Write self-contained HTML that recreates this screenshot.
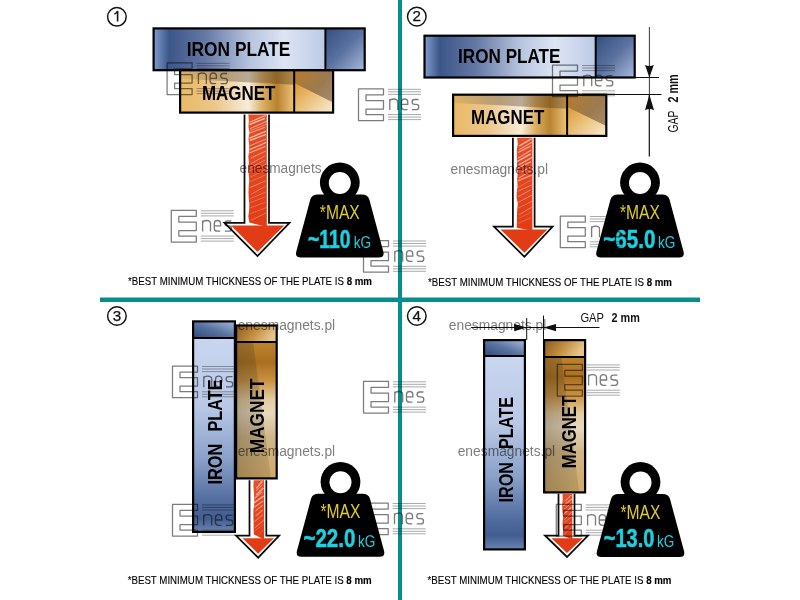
<!DOCTYPE html><html><head><meta charset="utf-8"><style>html,body{margin:0;padding:0;background:#fff;width:800px;height:600px;overflow:hidden}svg{display:block;font-family:"Liberation Sans",sans-serif}.wm{mix-blend-mode:multiply}</style></head><body>
<svg width="800" height="600" viewBox="0 0 800 600">
<defs>
<linearGradient id="ipMain" x1="0" y1="0" x2="1" y2="0">
<stop offset="0" stop-color="#809ccc"/><stop offset="0.09" stop-color="#3c5689"/><stop offset="0.3" stop-color="#6478a4"/>
<stop offset="0.56" stop-color="#b7c4df"/><stop offset="0.76" stop-color="#dde5f4"/><stop offset="1" stop-color="#bccae6"/></linearGradient>
<linearGradient id="ipEnd" x1="0" y1="0" x2="1" y2="1">
<stop offset="0" stop-color="#334e7e"/><stop offset="0.5" stop-color="#5a72a0"/><stop offset="1" stop-color="#a8badc"/></linearGradient>
<linearGradient id="ipV" x1="0" y1="0" x2="0" y2="1">
<stop offset="0" stop-color="#c9d6f0"/><stop offset="0.35" stop-color="#b9c8e6"/><stop offset="0.62" stop-color="#8ba1c9"/>
<stop offset="0.86" stop-color="#4d689b"/><stop offset="0.93" stop-color="#425d8f"/><stop offset="1" stop-color="#6a84b3"/></linearGradient>
<linearGradient id="ipEndV" x1="0" y1="1" x2="1" y2="0">
<stop offset="0" stop-color="#2f4a7a"/><stop offset="0.5" stop-color="#5a74a2"/><stop offset="1" stop-color="#a9badb"/></linearGradient>
<linearGradient id="mgMain" x1="0" y1="0" x2="1" y2="0">
<stop offset="0" stop-color="#e9b965"/><stop offset="0.3" stop-color="#ecc68a"/><stop offset="0.6" stop-color="#f7ecd8"/>
<stop offset="0.72" stop-color="#ddb066"/><stop offset="0.85" stop-color="#b8832e"/><stop offset="1" stop-color="#eec47a"/></linearGradient>
<linearGradient id="mgBand" x1="0" y1="0" x2="1" y2="0">
<stop offset="0" stop-color="#6a5a40" stop-opacity="0.1"/><stop offset="0.4" stop-color="#4a3a2a" stop-opacity="0.35"/><stop offset="1" stop-color="#4a3010" stop-opacity="0.38"/></linearGradient>
<linearGradient id="mgEnd" x1="0" y1="0" x2="1" y2="1">
<stop offset="0" stop-color="#b87a2a"/><stop offset="0.5" stop-color="#9c7a50"/><stop offset="1" stop-color="#a89274"/></linearGradient>
<linearGradient id="mgEnd2" x1="0" y1="0.2" x2="1" y2="1">
<stop offset="0" stop-color="#dfa040"/><stop offset="0.5" stop-color="#ecc888"/><stop offset="1" stop-color="#f8ecd4"/></linearGradient>
<linearGradient id="mgV" x1="0" y1="0" x2="0" y2="1">
<stop offset="0" stop-color="#bc842f"/><stop offset="0.15" stop-color="#aa7020"/><stop offset="0.28" stop-color="#c89040"/>
<stop offset="0.42" stop-color="#e4cca2"/><stop offset="0.52" stop-color="#e8d8bc"/><stop offset="0.7" stop-color="#d0b688"/><stop offset="1" stop-color="#d0aa66"/></linearGradient>
<linearGradient id="mgVBand" x1="0" y1="0" x2="1" y2="0">
<stop offset="0" stop-color="#3a3020" stop-opacity="0.32"/><stop offset="1" stop-color="#3a3020" stop-opacity="0.14"/></linearGradient>
<linearGradient id="mgEndV" x1="0" y1="0" x2="1" y2="0.3">
<stop offset="0" stop-color="#885a22"/><stop offset="0.5" stop-color="#bf8a3c"/><stop offset="1" stop-color="#e6c48a"/></linearGradient>
<linearGradient id="redSh" x1="0" y1="0" x2="0" y2="1">
<stop offset="0" stop-color="#e8502a"/><stop offset="1" stop-color="#e03c16"/></linearGradient>
</defs>
<rect x="398" y="0" width="4" height="600" fill="#078d8a"/>
<rect x="100" y="297.5" width="600" height="4.5" fill="#078d8a"/>
<circle cx="116.9" cy="16.8" r="9.3" fill="none" stroke="#111" stroke-width="1.45"/><path d="M114.4,14.200000000000001 Q116.5,13.0 117.60000000000001,11.0 V21.5" fill="none" stroke="#111" stroke-width="1.55"/>
<circle cx="416.8" cy="16.6" r="9.3" fill="none" stroke="#111" stroke-width="1.45"/><text x="416.8" y="21.400000000000002" font-size="15.2" text-anchor="middle" fill="#111" stroke="#111" stroke-width="0.25">2</text>
<circle cx="116.9" cy="316" r="9.3" fill="none" stroke="#111" stroke-width="1.45"/><text x="116.9" y="320.8" font-size="15.2" text-anchor="middle" fill="#111" stroke="#111" stroke-width="0.25">3</text>
<circle cx="416.8" cy="316" r="9.3" fill="none" stroke="#111" stroke-width="1.45"/><text x="416.8" y="320.8" font-size="15.2" text-anchor="middle" fill="#111" stroke="#111" stroke-width="0.25">4</text>
<g><rect x="153.6" y="28.400000000000002" width="171.80000000000004" height="41.8" fill="url(#ipMain)"/><rect x="325.40000000000003" y="28.400000000000002" width="39.299999999999955" height="41.8" fill="url(#ipEnd)"/><line x1="325.40000000000003" y1="28.400000000000002" x2="325.40000000000003" y2="70.2" stroke="#000" stroke-width="2"/><rect x="153.6" y="28.400000000000002" width="211.1" height="41.8" fill="none" stroke="#000" stroke-width="2.2"/><text x="186.8" y="56.3" font-size="20.4" font-weight="bold" fill="#000" textLength="103.6" lengthAdjust="spacingAndGlyphs" xml:space="preserve">IRON PLATE</text></g>
<g><rect x="180.1" y="70.3" width="114.1" height="42.30000000000001" fill="url(#mgMain)"/><path d="M180.1,70.3 L294.2,70.3 L294.2,84.682 L180.1,78.76 Z" fill="url(#mgBand)"/><rect x="294.2" y="70.3" width="38.89999999999998" height="42.30000000000001" fill="url(#mgEnd)"/><path d="M294.2,82.99 L333.09999999999997,102.44800000000001 L333.09999999999997,112.60000000000001 L294.2,112.60000000000001 Z" fill="url(#mgEnd2)"/><line x1="294.2" y1="70.3" x2="294.2" y2="112.60000000000001" stroke="#000" stroke-width="2"/><rect x="180.1" y="70.3" width="152.99999999999997" height="42.30000000000001" fill="none" stroke="#000" stroke-width="2.2"/><text x="201.9" y="100" font-size="20.2" font-weight="bold" fill="#000" textLength="73.6" lengthAdjust="spacingAndGlyphs">MAGNET</text></g>
<g><path d="M266.8,114.5 L266.8,226.8 L249.3,222.5 L248.3,216.5 L249.1,210.5 L249.3,204.5 L248.8,198.5 L248.5,192.5 L248.7,186.5 L249.2,180.5 L248.7,174.5 L248.2,168.5 L248.9,162.5 L248.3,156.5 L249.3,150.5 L249.1,144.5 L248.5,138.5 L249.4,132.5 L248.4,126.5 L248.9,120.5 L248.3,114.5 Z" fill="url(#redSh)"/><line x1="249.8" y1="122.1" x2="265.6" y2="115.5" stroke="#fff" stroke-width="1.02" opacity="0.64"/><line x1="249.6" y1="124.4" x2="264.9" y2="118.5" stroke="#fff" stroke-width="1.09" opacity="0.76"/><line x1="250.3" y1="128.6" x2="266.8" y2="121.3" stroke="#fff" stroke-width="0.74" opacity="0.72"/><line x1="250.1" y1="130.8" x2="266.8" y2="124.2" stroke="#fff" stroke-width="0.79" opacity="0.46"/><line x1="249.4" y1="133.2" x2="264.8" y2="127.3" stroke="#fff" stroke-width="0.91" opacity="0.57"/><line x1="249.3" y1="138.3" x2="265.8" y2="131.2" stroke="#fff" stroke-width="1.25" opacity="0.70"/><line x1="249.9" y1="140.4" x2="265.8" y2="134.5" stroke="#fff" stroke-width="1.16" opacity="0.73"/><line x1="249.7" y1="145.9" x2="265.7" y2="139.2" stroke="#fff" stroke-width="0.84" opacity="0.59"/><line x1="250.1" y1="149.5" x2="266.0" y2="142.5" stroke="#fff" stroke-width="1.15" opacity="0.65"/><line x1="249.5" y1="152.9" x2="265.1" y2="146.4" stroke="#fff" stroke-width="0.93" opacity="0.70"/><line x1="251.0" y1="158.2" x2="265.8" y2="150.9" stroke="#fff" stroke-width="1.15" opacity="0.38"/><line x1="250.8" y1="163.8" x2="264.8" y2="155.9" stroke="#fff" stroke-width="0.75" opacity="0.49"/><line x1="250.3" y1="167.7" x2="264.9" y2="160.2" stroke="#fff" stroke-width="0.79" opacity="0.42"/><line x1="249.3" y1="170.8" x2="266.5" y2="164.2" stroke="#fff" stroke-width="0.69" opacity="0.42"/><line x1="250.3" y1="177.2" x2="265.3" y2="169.4" stroke="#fff" stroke-width="0.57" opacity="0.42"/><line x1="250.1" y1="181.8" x2="265.1" y2="175.1" stroke="#fff" stroke-width="0.55" opacity="0.39"/><line x1="249.9" y1="187.6" x2="265.7" y2="180.8" stroke="#fff" stroke-width="0.71" opacity="0.51"/><line x1="251.1" y1="194.3" x2="265.3" y2="186.3" stroke="#fff" stroke-width="0.86" opacity="0.36"/><line x1="250.3" y1="198.7" x2="265.8" y2="192.0" stroke="#fff" stroke-width="0.79" opacity="0.33"/><line x1="249.8" y1="202.9" x2="265.0" y2="197.0" stroke="#fff" stroke-width="0.65" opacity="0.35"/><line x1="250.3" y1="207.9" x2="265.6" y2="202.1" stroke="#fff" stroke-width="0.82" opacity="0.26"/><line x1="249.9" y1="213.9" x2="266.5" y2="207.5" stroke="#fff" stroke-width="0.72" opacity="0.28"/><line x1="251.1" y1="220.1" x2="266.3" y2="212.8" stroke="#fff" stroke-width="0.80" opacity="0.34"/><path d="M231.0,225.60000000000002 L284.3,225.60000000000002 L257.5,252 Z" fill="#e13c16"/><path d="M244.5,114.5 L244.5,222.8 L224.5,222.8 L257.5,256 L289.5,222.8 L269,222.8 L269,114.5" fill="none" stroke="#0a0a0a" stroke-width="1.75" stroke-linejoin="miter"/></g>
<g><circle cx="339.8" cy="182.5" r="19.9" fill="#000"/><circle cx="339.8" cy="183.0" r="11" fill="#fff"/><path d="M317.8,194.5 L361.8,194.5 Q367.8,194.5 369.3,199.5 L383.3,251.5 Q384.8,257.5 378.8,257.5 L300.8,257.5 Q294.8,257.5 296.3,251.5 L310.3,199.5 Q311.8,194.5 317.8,194.5 Z" fill="#000"/><text x="319.8" y="219.0" font-size="19.5" fill="#e0cb28" textLength="40" lengthAdjust="spacingAndGlyphs">*MAX</text><text x="307.9" y="247.5" font-size="25" font-weight="bold" fill="#1cd0e0" stroke="#1cd0e0" stroke-width="0.5" textLength="42.5" lengthAdjust="spacingAndGlyphs">~110</text><text x="353.8" y="247.5" font-size="16" fill="#1cd0e0" textLength="17.4" lengthAdjust="spacingAndGlyphs">kG</text></g>
<text x="128" y="285" font-size="10.8" fill="#000" stroke="#000" stroke-width="0.12" textLength="244" lengthAdjust="spacingAndGlyphs">*BEST MINIMUM THICKNESS OF THE PLATE IS <tspan font-weight="bold">8 mm</tspan></text>
<g><rect x="424.5" y="35.7" width="171.19999999999993" height="41.8" fill="url(#ipMain)"/><rect x="595.6999999999999" y="35.7" width="39.0" height="41.8" fill="url(#ipEnd)"/><line x1="595.6999999999999" y1="35.7" x2="595.6999999999999" y2="77.5" stroke="#000" stroke-width="2"/><rect x="424.5" y="35.7" width="210.19999999999993" height="41.8" fill="none" stroke="#000" stroke-width="2.2"/><text x="458.1" y="63.4" font-size="20.4" font-weight="bold" fill="#000" textLength="102.4" lengthAdjust="spacingAndGlyphs" xml:space="preserve">IRON PLATE</text></g>
<g><rect x="453.1" y="94.69999999999999" width="114.0" height="41.20000000000002" fill="url(#mgMain)"/><path d="M453.1,94.69999999999999 L567.1,94.69999999999999 L567.1,108.708 L453.1,102.94 Z" fill="url(#mgBand)"/><rect x="567.1" y="94.69999999999999" width="39.19999999999993" height="41.20000000000002" fill="url(#mgEnd)"/><path d="M567.1,107.05999999999999 L606.3,126.012 L606.3,135.9 L567.1,135.9 Z" fill="url(#mgEnd2)"/><line x1="567.1" y1="94.69999999999999" x2="567.1" y2="135.9" stroke="#000" stroke-width="2"/><rect x="453.1" y="94.69999999999999" width="153.19999999999993" height="41.20000000000002" fill="none" stroke="#000" stroke-width="2.2"/><text x="471.1" y="124.2" font-size="20.2" font-weight="bold" fill="#000" textLength="73.2" lengthAdjust="spacingAndGlyphs">MAGNET</text></g>
<g><path d="M532.4,137.8 L532.4,230.7 L516.8,227.8 L516.9,221.8 L517.0,215.8 L517.2,209.8 L517.8,203.8 L516.6,197.8 L516.8,191.8 L517.6,185.8 L517.1,179.8 L517.7,173.8 L517.1,167.8 L516.9,161.8 L516.9,155.8 L516.8,149.8 L517.8,143.8 L517.1,137.8 Z" fill="url(#redSh)"/><line x1="519.3" y1="146.0" x2="531.5" y2="138.8" stroke="#fff" stroke-width="1.12" opacity="0.69"/><line x1="519.4" y1="149.6" x2="532.0" y2="142.2" stroke="#fff" stroke-width="0.79" opacity="0.74"/><line x1="518.1" y1="152.5" x2="530.7" y2="146.0" stroke="#fff" stroke-width="1.30" opacity="0.53"/><line x1="517.9" y1="158.2" x2="531.1" y2="150.3" stroke="#fff" stroke-width="1.18" opacity="0.48"/><line x1="517.2" y1="161.5" x2="530.7" y2="153.9" stroke="#fff" stroke-width="1.32" opacity="0.64"/><line x1="518.9" y1="164.7" x2="532.0" y2="157.4" stroke="#fff" stroke-width="1.19" opacity="0.60"/><line x1="517.9" y1="167.9" x2="530.8" y2="161.7" stroke="#fff" stroke-width="1.16" opacity="0.60"/><line x1="519.2" y1="173.6" x2="531.0" y2="166.4" stroke="#fff" stroke-width="0.96" opacity="0.60"/><line x1="518.8" y1="178.2" x2="530.9" y2="170.6" stroke="#fff" stroke-width="1.19" opacity="0.42"/><line x1="517.6" y1="181.0" x2="531.6" y2="175.1" stroke="#fff" stroke-width="1.15" opacity="0.54"/><line x1="517.4" y1="187.9" x2="530.9" y2="180.0" stroke="#fff" stroke-width="0.62" opacity="0.35"/><line x1="517.7" y1="191.4" x2="532.0" y2="184.8" stroke="#fff" stroke-width="0.77" opacity="0.42"/><line x1="518.0" y1="196.7" x2="530.5" y2="190.0" stroke="#fff" stroke-width="0.70" opacity="0.53"/><line x1="517.5" y1="202.6" x2="532.0" y2="195.1" stroke="#fff" stroke-width="0.92" opacity="0.39"/><line x1="518.2" y1="208.1" x2="532.3" y2="201.1" stroke="#fff" stroke-width="0.77" opacity="0.33"/><line x1="519.1" y1="214.7" x2="531.9" y2="207.1" stroke="#fff" stroke-width="0.96" opacity="0.37"/><line x1="519.3" y1="218.1" x2="530.7" y2="212.2" stroke="#fff" stroke-width="0.75" opacity="0.24"/><line x1="518.2" y1="223.3" x2="530.9" y2="217.6" stroke="#fff" stroke-width="0.84" opacity="0.26"/><path d="M500.5,229.5 L547.4,229.5 L524.4,252.8 Z" fill="#e13c16"/><path d="M512.9,137.8 L512.9,226.7 L494,226.7 L524.4,256.8 L552.6,226.7 L534.6,226.7 L534.6,137.8" fill="none" stroke="#0a0a0a" stroke-width="1.75" stroke-linejoin="miter"/></g>
<g><circle cx="640" cy="182.5" r="19.9" fill="#000"/><circle cx="640" cy="183.0" r="11" fill="#fff"/><path d="M618,194.5 L662,194.5 Q668,194.5 669.5,199.5 L683.5,251.5 Q685,257.5 679,257.5 L601,257.5 Q595,257.5 596.5,251.5 L610.5,199.5 Q612,194.5 618,194.5 Z" fill="#000"/><text x="620" y="219.0" font-size="19.5" fill="#e0cb28" textLength="40" lengthAdjust="spacingAndGlyphs">*MAX</text><text x="603.1999999999999" y="247.5" font-size="25" font-weight="bold" fill="#1cd0e0" stroke="#1cd0e0" stroke-width="0.5" textLength="52.2" lengthAdjust="spacingAndGlyphs">~65.0</text><text x="658" y="247.5" font-size="16" fill="#1cd0e0" textLength="17.4" lengthAdjust="spacingAndGlyphs">kG</text></g>
<text x="428" y="285.6" font-size="10.8" fill="#000" stroke="#000" stroke-width="0.12" textLength="244" lengthAdjust="spacingAndGlyphs">*BEST MINIMUM THICKNESS OF THE PLATE IS <tspan font-weight="bold">8 mm</tspan></text>
<line x1="649.4" y1="27" x2="649.4" y2="95" stroke="#222" stroke-width="0.9"/>
<line x1="649.3" y1="95" x2="649.3" y2="156.6" stroke="#111" stroke-width="1.2"/>
<line x1="635" y1="77.5" x2="659" y2="77.5" stroke="#111" stroke-width="1"/>
<line x1="606" y1="94.5" x2="661.5" y2="94.5" stroke="#111" stroke-width="1.1"/>
<path d="M645,65 Q649.4,67 653.8,65 L649.4,77.5 Z" fill="#111"/>
<path d="M645,110.2 Q649.4,108 654,110.2 L649.4,94.5 Z" fill="#111"/>
<g transform="translate(678.1,132.5) rotate(-90)"><text x="0" y="0" font-size="14" fill="#111" textLength="21.9" lengthAdjust="spacingAndGlyphs">GAP</text><text x="30" y="0" font-size="14" font-weight="bold" fill="#111" textLength="28.1" lengthAdjust="spacingAndGlyphs">2 mm</text></g>
<g><rect x="193.1" y="337.9" width="41.80000000000001" height="194.0" fill="url(#ipV)"/><rect x="193.1" y="321.40000000000003" width="41.80000000000001" height="16.499999999999943" fill="url(#ipEndV)"/><line x1="193.1" y1="337.9" x2="234.9" y2="337.9" stroke="#000" stroke-width="2"/><rect x="193.1" y="321.40000000000003" width="41.80000000000001" height="210.49999999999994" fill="none" stroke="#000" stroke-width="2.2"/><text transform="translate(221.6,484.5) rotate(-90)" x="0" y="0" font-size="20.8" font-weight="bold" fill="#000" textLength="40.8" lengthAdjust="spacingAndGlyphs">IRON</text><text transform="translate(221.6,431.6) rotate(-90)" x="0" y="0" font-size="20.8" font-weight="bold" fill="#000" textLength="52.2" lengthAdjust="spacingAndGlyphs">PLATE</text></g>
<g><rect x="236.1" y="341.9" width="40.599999999999994" height="136.5" fill="url(#mgV)"/><path d="M236.1,341.9 L253.152,341.9 L271.01599999999996,478.4 L236.1,478.4 Z" fill="url(#mgVBand)"/><rect x="236.1" y="325.5" width="40.599999999999994" height="16.399999999999977" fill="url(#mgEndV)"/><line x1="236.1" y1="341.9" x2="276.7" y2="341.9" stroke="#000" stroke-width="2"/><rect x="236.1" y="325.5" width="40.599999999999994" height="152.89999999999998" fill="none" stroke="#000" stroke-width="2.2"/><text transform="translate(264.2,453.3) rotate(-90)" x="0" y="0" font-size="20.8" font-weight="bold" fill="#000" textLength="74.8" lengthAdjust="spacingAndGlyphs">MAGNET</text></g>
<g><path d="M264.1,480.3 L264.1,539.5 L253.8,534.3 L253.6,528.3 L253.6,522.3 L253.4,516.3 L253.4,510.3 L254.2,504.3 L254.2,498.3 L253.9,492.3 L253.4,486.3 L253.7,480.3 Z" fill="url(#redSh)"/><line x1="256.3" y1="488.4" x2="262.3" y2="481.3" stroke="#fff" stroke-width="1.40" opacity="0.56"/><line x1="256.0" y1="490.8" x2="262.5" y2="484.8" stroke="#fff" stroke-width="0.83" opacity="0.50"/><line x1="256.0" y1="494.9" x2="263.3" y2="488.0" stroke="#fff" stroke-width="1.34" opacity="0.59"/><line x1="254.5" y1="498.3" x2="262.3" y2="491.8" stroke="#fff" stroke-width="1.05" opacity="0.54"/><line x1="254.2" y1="502.8" x2="263.6" y2="496.0" stroke="#fff" stroke-width="1.18" opacity="0.69"/><line x1="254.3" y1="507.3" x2="263.1" y2="500.9" stroke="#fff" stroke-width="1.09" opacity="0.53"/><line x1="255.4" y1="511.0" x2="262.7" y2="505.2" stroke="#fff" stroke-width="0.95" opacity="0.62"/><line x1="255.7" y1="516.0" x2="262.6" y2="510.1" stroke="#fff" stroke-width="1.12" opacity="0.42"/><line x1="254.4" y1="521.6" x2="262.8" y2="514.6" stroke="#fff" stroke-width="1.04" opacity="0.31"/><line x1="254.8" y1="527.8" x2="263.8" y2="519.9" stroke="#fff" stroke-width="0.87" opacity="0.47"/><line x1="255.2" y1="530.4" x2="262.5" y2="524.9" stroke="#fff" stroke-width="0.62" opacity="0.28"/><line x1="256.1" y1="537.6" x2="263.2" y2="530.1" stroke="#fff" stroke-width="0.53" opacity="0.30"/><path d="M242.5,538.3 L274.0,538.3 L258.2,553.7 Z" fill="#e13c16"/><path d="M249.5,480.3 L249.5,535.5 L236,535.5 L258.2,557.7 L279.2,535.5 L266.3,535.5 L266.3,480.3" fill="none" stroke="#0a0a0a" stroke-width="1.75" stroke-linejoin="miter"/></g>
<g><circle cx="340.5" cy="481.8" r="19.9" fill="#000"/><circle cx="340.5" cy="482.3" r="11" fill="#fff"/><path d="M318.5,493.8 L362.5,493.8 Q368.5,493.8 370.0,498.8 L384.0,550.8 Q385.5,556.8 379.5,556.8 L301.5,556.8 Q295.5,556.8 297.0,550.8 L311.0,498.8 Q312.5,493.8 318.5,493.8 Z" fill="#000"/><text x="320.5" y="518.3" font-size="19.5" fill="#e0cb28" textLength="40" lengthAdjust="spacingAndGlyphs">*MAX</text><text x="303.4" y="546.8" font-size="25" font-weight="bold" fill="#1cd0e0" stroke="#1cd0e0" stroke-width="0.5" textLength="52" lengthAdjust="spacingAndGlyphs">~22.0</text><text x="358" y="546.8" font-size="16" fill="#1cd0e0" textLength="17.4" lengthAdjust="spacingAndGlyphs">kG</text></g>
<text x="127.7" y="584.3" font-size="10.8" fill="#000" stroke="#000" stroke-width="0.12" textLength="244" lengthAdjust="spacingAndGlyphs">*BEST MINIMUM THICKNESS OF THE PLATE IS <tspan font-weight="bold">8 mm</tspan></text>
<g><rect x="484.1" y="356" width="40.799999999999955" height="193.39999999999998" fill="url(#ipV)"/><rect x="484.1" y="340.1" width="40.799999999999955" height="15.899999999999977" fill="url(#ipEndV)"/><line x1="484.1" y1="356" x2="524.9" y2="356" stroke="#000" stroke-width="2"/><rect x="484.1" y="340.1" width="40.799999999999955" height="209.29999999999995" fill="none" stroke="#000" stroke-width="2.2"/><text transform="translate(512.5,502.5) rotate(-90)" x="0" y="0" font-size="20.8" font-weight="bold" fill="#000" textLength="40.5" lengthAdjust="spacingAndGlyphs">IRON</text><text transform="translate(512.5,449) rotate(-90)" x="0" y="0" font-size="20.8" font-weight="bold" fill="#000" textLength="52" lengthAdjust="spacingAndGlyphs">PLATE</text></g>
<g><rect x="544.1" y="356.9" width="41.0" height="135.5" fill="url(#mgV)"/><path d="M544.1,356.9 L561.32,356.9 L579.36,492.4 L544.1,492.4 Z" fill="url(#mgVBand)"/><rect x="544.1" y="340.1" width="41.0" height="16.799999999999955" fill="url(#mgEndV)"/><line x1="544.1" y1="356.9" x2="585.1" y2="356.9" stroke="#000" stroke-width="2"/><rect x="544.1" y="340.1" width="41.0" height="152.29999999999995" fill="none" stroke="#000" stroke-width="2.2"/><text transform="translate(576.2,468.3) rotate(-90)" x="0" y="0" font-size="20.8" font-weight="bold" fill="#000" textLength="72.5" lengthAdjust="spacingAndGlyphs">MAGNET</text></g>
<g><path d="M572.3,493.8 L572.3,539.5 L562.9,535.8 L563.0,529.8 L562.5,523.8 L563.1,517.8 L562.4,511.8 L562.2,505.8 L562.7,499.8 L562.5,493.8 Z" fill="url(#redSh)"/><line x1="565.0" y1="501.3" x2="571.4" y2="494.8" stroke="#fff" stroke-width="0.74" opacity="0.75"/><line x1="563.4" y1="505.7" x2="572.0" y2="498.9" stroke="#fff" stroke-width="1.09" opacity="0.50"/><line x1="564.2" y1="509.1" x2="571.5" y2="503.0" stroke="#fff" stroke-width="0.71" opacity="0.48"/><line x1="562.9" y1="514.9" x2="571.2" y2="507.4" stroke="#fff" stroke-width="1.05" opacity="0.61"/><line x1="564.5" y1="519.7" x2="571.6" y2="512.0" stroke="#fff" stroke-width="0.72" opacity="0.46"/><line x1="564.0" y1="522.6" x2="571.6" y2="516.9" stroke="#fff" stroke-width="0.68" opacity="0.36"/><line x1="564.4" y1="528.9" x2="571.0" y2="522.4" stroke="#fff" stroke-width="1.02" opacity="0.32"/><line x1="562.9" y1="535.0" x2="571.2" y2="527.9" stroke="#fff" stroke-width="0.58" opacity="0.43"/><path d="M551.5,538.3 L582.8,538.3 L567,553 Z" fill="#e13c16"/><path d="M558.5,493.8 L558.5,535.5 L545,535.5 L567,557 L588,535.5 L574.5,535.5 L574.5,493.8" fill="none" stroke="#0a0a0a" stroke-width="1.75" stroke-linejoin="miter"/></g>
<g><circle cx="640.5" cy="482" r="19.9" fill="#000"/><circle cx="640.5" cy="482.5" r="11" fill="#fff"/><path d="M618.5,494 L662.5,494 Q668.5,494 670.0,499 L684.0,551 Q685.5,557 679.5,557 L601.5,557 Q595.5,557 597.0,551 L611.0,499 Q612.5,494 618.5,494 Z" fill="#000"/><text x="620.5" y="518.5" font-size="19.5" fill="#e0cb28" textLength="40" lengthAdjust="spacingAndGlyphs">*MAX</text><text x="603.8" y="547" font-size="25" font-weight="bold" fill="#1cd0e0" stroke="#1cd0e0" stroke-width="0.5" textLength="50.6" lengthAdjust="spacingAndGlyphs">~13.0</text><text x="657" y="547" font-size="16" fill="#1cd0e0" textLength="17.4" lengthAdjust="spacingAndGlyphs">kG</text></g>
<text x="427.5" y="584.3" font-size="10.8" fill="#000" stroke="#000" stroke-width="0.12" textLength="244" lengthAdjust="spacingAndGlyphs">*BEST MINIMUM THICKNESS OF THE PLATE IS <tspan font-weight="bold">8 mm</tspan></text>
<line x1="526.7" y1="318" x2="526.7" y2="340" stroke="#111" stroke-width="1"/>
<line x1="543.5" y1="315.6" x2="543.5" y2="340" stroke="#111" stroke-width="1"/>
<line x1="471" y1="327.5" x2="599.5" y2="327.5" stroke="#111" stroke-width="1"/>
<path d="M514.2,324 L514.2,331.3 L526.7,327.5 Z" fill="#111"/>
<path d="M556,324 L556,331.3 L543.5,327.5 Z" fill="#111"/>
<text x="580.4" y="321.8" font-size="13.7" fill="#111" textLength="23.6" lengthAdjust="spacingAndGlyphs">GAP</text>
<text x="611.5" y="321.8" font-size="13.7" font-weight="bold" fill="#111" textLength="28.3" lengthAdjust="spacingAndGlyphs">2 mm</text>
<g class="wm"><path d="M167.1,62.8 h25 v6 h-17.5 v5.7 h17.5 v8.5 h-17.5 v5.5 h17.5 v6 h-25 Z" fill="none" stroke="#7c7c7c" stroke-width="1.25" stroke-linejoin="round"/><line x1="196.6" y1="63.3" x2="229.6" y2="63.3" stroke="#a0a0a0" stroke-width="0.9"/><line x1="196.6" y1="65.8" x2="229.6" y2="65.8" stroke="#a0a0a0" stroke-width="0.9"/><line x1="196.6" y1="68.39999999999999" x2="229.6" y2="68.39999999999999" stroke="#a0a0a0" stroke-width="0.9"/><line x1="196.6" y1="88.6" x2="229.6" y2="88.6" stroke="#a0a0a0" stroke-width="0.9"/><line x1="196.6" y1="91.1" x2="229.6" y2="91.1" stroke="#a0a0a0" stroke-width="0.9"/><line x1="196.6" y1="93.6" x2="229.6" y2="93.6" stroke="#a0a0a0" stroke-width="0.9"/><path d="M198.4,84.0 V73.0 M198.4,76.0 Q198.4,73.0 202.3,73.0 Q206.3,73.0 206.3,76.0 V84.0 M210.1,78.39999999999999 H216.39999999999998 V76.1 Q216.39999999999998,73.0 213.25,73.0 Q210.1,73.0 210.1,76.1 V80.9 Q210.1,83.69999999999999 213.25,83.69999999999999 H216.1 M227.1,73.5 H223.1 Q220.7,73.5 220.7,76.0 Q220.7,78.39999999999999 223.1,78.39999999999999 H224.89999999999998 Q227.39999999999998,78.39999999999999 227.39999999999998,81.0 Q227.39999999999998,83.69999999999999 224.89999999999998,83.69999999999999 H220.6" fill="none" stroke="#7a7a7a" stroke-width="1.3"/></g>
<g class="wm"><path d="M358.5,88.8 h25 v6 h-17.5 v5.7 h17.5 v8.5 h-17.5 v5.5 h17.5 v6 h-25 Z" fill="none" stroke="#7c7c7c" stroke-width="1.25" stroke-linejoin="round"/><line x1="388.0" y1="89.3" x2="421.0" y2="89.3" stroke="#a0a0a0" stroke-width="0.9"/><line x1="388.0" y1="91.8" x2="421.0" y2="91.8" stroke="#a0a0a0" stroke-width="0.9"/><line x1="388.0" y1="94.39999999999999" x2="421.0" y2="94.39999999999999" stroke="#a0a0a0" stroke-width="0.9"/><line x1="388.0" y1="114.6" x2="421.0" y2="114.6" stroke="#a0a0a0" stroke-width="0.9"/><line x1="388.0" y1="117.1" x2="421.0" y2="117.1" stroke="#a0a0a0" stroke-width="0.9"/><line x1="388.0" y1="119.6" x2="421.0" y2="119.6" stroke="#a0a0a0" stroke-width="0.9"/><path d="M389.8,110.0 V99.0 M389.8,102.0 Q389.8,99.0 393.7,99.0 Q397.7,99.0 397.7,102.0 V110.0 M401.5,104.39999999999999 H407.8 V102.1 Q407.8,99.0 404.65,99.0 Q401.5,99.0 401.5,102.1 V106.9 Q401.5,109.69999999999999 404.65,109.69999999999999 H407.5 M418.5,99.5 H414.5 Q412.1,99.5 412.1,102.0 Q412.1,104.39999999999999 414.5,104.39999999999999 H416.3 Q418.8,104.39999999999999 418.8,107.0 Q418.8,109.69999999999999 416.3,109.69999999999999 H412.0" fill="none" stroke="#7a7a7a" stroke-width="1.3"/></g>
<g class="wm"><path d="M171.3,210.3 h25 v6 h-17.5 v5.7 h17.5 v8.5 h-17.5 v5.5 h17.5 v6 h-25 Z" fill="none" stroke="#7c7c7c" stroke-width="1.25" stroke-linejoin="round"/><line x1="200.8" y1="210.8" x2="233.8" y2="210.8" stroke="#a0a0a0" stroke-width="0.9"/><line x1="200.8" y1="213.3" x2="233.8" y2="213.3" stroke="#a0a0a0" stroke-width="0.9"/><line x1="200.8" y1="215.9" x2="233.8" y2="215.9" stroke="#a0a0a0" stroke-width="0.9"/><line x1="200.8" y1="236.10000000000002" x2="233.8" y2="236.10000000000002" stroke="#a0a0a0" stroke-width="0.9"/><line x1="200.8" y1="238.60000000000002" x2="233.8" y2="238.60000000000002" stroke="#a0a0a0" stroke-width="0.9"/><line x1="200.8" y1="241.10000000000002" x2="233.8" y2="241.10000000000002" stroke="#a0a0a0" stroke-width="0.9"/><path d="M202.60000000000002,231.5 V220.5 M202.60000000000002,223.5 Q202.60000000000002,220.5 206.5,220.5 Q210.5,220.5 210.5,223.5 V231.5 M214.3,225.9 H220.60000000000002 V223.60000000000002 Q220.60000000000002,220.5 217.45000000000002,220.5 Q214.3,220.5 214.3,223.60000000000002 V228.4 Q214.3,231.20000000000002 217.45000000000002,231.20000000000002 H220.3 M231.3,221.0 H227.3 Q224.9,221.0 224.9,223.5 Q224.9,225.9 227.3,225.9 H229.10000000000002 Q231.60000000000002,225.9 231.60000000000002,228.5 Q231.60000000000002,231.20000000000002 229.10000000000002,231.20000000000002 H224.8" fill="none" stroke="#7a7a7a" stroke-width="1.3"/></g>
<g class="wm"><path d="M363.5,240.5 h25 v6 h-17.5 v5.7 h17.5 v8.5 h-17.5 v5.5 h17.5 v6 h-25 Z" fill="none" stroke="#7c7c7c" stroke-width="1.25" stroke-linejoin="round"/><line x1="393.0" y1="241.0" x2="426.0" y2="241.0" stroke="#a0a0a0" stroke-width="0.9"/><line x1="393.0" y1="243.5" x2="426.0" y2="243.5" stroke="#a0a0a0" stroke-width="0.9"/><line x1="393.0" y1="246.1" x2="426.0" y2="246.1" stroke="#a0a0a0" stroke-width="0.9"/><line x1="393.0" y1="266.3" x2="426.0" y2="266.3" stroke="#a0a0a0" stroke-width="0.9"/><line x1="393.0" y1="268.8" x2="426.0" y2="268.8" stroke="#a0a0a0" stroke-width="0.9"/><line x1="393.0" y1="271.3" x2="426.0" y2="271.3" stroke="#a0a0a0" stroke-width="0.9"/><path d="M394.8,261.7 V250.7 M394.8,253.7 Q394.8,250.7 398.7,250.7 Q402.7,250.7 402.7,253.7 V261.7 M406.5,256.1 H412.8 V253.8 Q412.8,250.7 409.65,250.7 Q406.5,250.7 406.5,253.8 V258.6 Q406.5,261.4 409.65,261.4 H412.5 M423.5,251.2 H419.5 Q417.1,251.2 417.1,253.7 Q417.1,256.1 419.5,256.1 H421.3 Q423.8,256.1 423.8,258.7 Q423.8,261.4 421.3,261.4 H417.0" fill="none" stroke="#7a7a7a" stroke-width="1.3"/></g>
<g class="wm"><path d="M552.5,65 h25 v6 h-17.5 v5.7 h17.5 v8.5 h-17.5 v5.5 h17.5 v6 h-25 Z" fill="none" stroke="#7c7c7c" stroke-width="1.25" stroke-linejoin="round"/><line x1="582.0" y1="65.5" x2="615.0" y2="65.5" stroke="#a0a0a0" stroke-width="0.9"/><line x1="582.0" y1="68.0" x2="615.0" y2="68.0" stroke="#a0a0a0" stroke-width="0.9"/><line x1="582.0" y1="70.6" x2="615.0" y2="70.6" stroke="#a0a0a0" stroke-width="0.9"/><line x1="582.0" y1="90.8" x2="615.0" y2="90.8" stroke="#a0a0a0" stroke-width="0.9"/><line x1="582.0" y1="93.3" x2="615.0" y2="93.3" stroke="#a0a0a0" stroke-width="0.9"/><line x1="582.0" y1="95.8" x2="615.0" y2="95.8" stroke="#a0a0a0" stroke-width="0.9"/><path d="M583.8,86.2 V75.2 M583.8,78.2 Q583.8,75.2 587.7,75.2 Q591.7,75.2 591.7,78.2 V86.2 M595.5,80.6 H601.8 V78.3 Q601.8,75.2 598.65,75.2 Q595.5,75.2 595.5,78.3 V83.1 Q595.5,85.9 598.65,85.9 H601.5 M612.5,75.7 H608.5 Q606.1,75.7 606.1,78.2 Q606.1,80.6 608.5,80.6 H610.3 Q612.8,80.6 612.8,83.2 Q612.8,85.9 610.3,85.9 H606.0" fill="none" stroke="#7a7a7a" stroke-width="1.3"/></g>
<g class="wm"><path d="M560.3,216 h25 v6 h-17.5 v5.7 h17.5 v8.5 h-17.5 v5.5 h17.5 v6 h-25 Z" fill="none" stroke="#7c7c7c" stroke-width="1.25" stroke-linejoin="round"/><line x1="589.8" y1="216.5" x2="622.8" y2="216.5" stroke="#a0a0a0" stroke-width="0.9"/><line x1="589.8" y1="219.0" x2="622.8" y2="219.0" stroke="#a0a0a0" stroke-width="0.9"/><line x1="589.8" y1="221.6" x2="622.8" y2="221.6" stroke="#a0a0a0" stroke-width="0.9"/><line x1="589.8" y1="241.8" x2="622.8" y2="241.8" stroke="#a0a0a0" stroke-width="0.9"/><line x1="589.8" y1="244.3" x2="622.8" y2="244.3" stroke="#a0a0a0" stroke-width="0.9"/><line x1="589.8" y1="246.8" x2="622.8" y2="246.8" stroke="#a0a0a0" stroke-width="0.9"/><path d="M591.5999999999999,237.2 V226.2 M591.5999999999999,229.2 Q591.5999999999999,226.2 595.5,226.2 Q599.5,226.2 599.5,229.2 V237.2 M603.3,231.6 H609.5999999999999 V229.3 Q609.5999999999999,226.2 606.4499999999999,226.2 Q603.3,226.2 603.3,229.3 V234.1 Q603.3,236.9 606.4499999999999,236.9 H609.3 M620.3,226.7 H616.3 Q613.9,226.7 613.9,229.2 Q613.9,231.6 616.3,231.6 H618.0999999999999 Q620.5999999999999,231.6 620.5999999999999,234.2 Q620.5999999999999,236.9 618.0999999999999,236.9 H613.8" fill="none" stroke="#7a7a7a" stroke-width="1.3"/></g>
<g class="wm"><path d="M172.5,366 h25 v6 h-17.5 v5.7 h17.5 v8.5 h-17.5 v5.5 h17.5 v6 h-25 Z" fill="none" stroke="#7c7c7c" stroke-width="1.25" stroke-linejoin="round"/><line x1="202.0" y1="366.5" x2="235.0" y2="366.5" stroke="#a0a0a0" stroke-width="0.9"/><line x1="202.0" y1="369.0" x2="235.0" y2="369.0" stroke="#a0a0a0" stroke-width="0.9"/><line x1="202.0" y1="371.6" x2="235.0" y2="371.6" stroke="#a0a0a0" stroke-width="0.9"/><line x1="202.0" y1="391.8" x2="235.0" y2="391.8" stroke="#a0a0a0" stroke-width="0.9"/><line x1="202.0" y1="394.3" x2="235.0" y2="394.3" stroke="#a0a0a0" stroke-width="0.9"/><line x1="202.0" y1="396.8" x2="235.0" y2="396.8" stroke="#a0a0a0" stroke-width="0.9"/><path d="M203.8,387.2 V376.2 M203.8,379.2 Q203.8,376.2 207.7,376.2 Q211.7,376.2 211.7,379.2 V387.2 M215.5,381.6 H221.8 V379.3 Q221.8,376.2 218.65,376.2 Q215.5,376.2 215.5,379.3 V384.1 Q215.5,386.9 218.65,386.9 H221.5 M232.5,376.7 H228.5 Q226.1,376.7 226.1,379.2 Q226.1,381.6 228.5,381.6 H230.3 Q232.8,381.6 232.8,384.2 Q232.8,386.9 230.3,386.9 H226.0" fill="none" stroke="#7a7a7a" stroke-width="1.3"/></g>
<g class="wm"><path d="M363.5,381.3 h25 v6 h-17.5 v5.7 h17.5 v8.5 h-17.5 v5.5 h17.5 v6 h-25 Z" fill="none" stroke="#7c7c7c" stroke-width="1.25" stroke-linejoin="round"/><line x1="393.0" y1="381.8" x2="426.0" y2="381.8" stroke="#a0a0a0" stroke-width="0.9"/><line x1="393.0" y1="384.3" x2="426.0" y2="384.3" stroke="#a0a0a0" stroke-width="0.9"/><line x1="393.0" y1="386.90000000000003" x2="426.0" y2="386.90000000000003" stroke="#a0a0a0" stroke-width="0.9"/><line x1="393.0" y1="407.1" x2="426.0" y2="407.1" stroke="#a0a0a0" stroke-width="0.9"/><line x1="393.0" y1="409.6" x2="426.0" y2="409.6" stroke="#a0a0a0" stroke-width="0.9"/><line x1="393.0" y1="412.1" x2="426.0" y2="412.1" stroke="#a0a0a0" stroke-width="0.9"/><path d="M394.8,402.5 V391.5 M394.8,394.5 Q394.8,391.5 398.7,391.5 Q402.7,391.5 402.7,394.5 V402.5 M406.5,396.90000000000003 H412.8 V394.6 Q412.8,391.5 409.65,391.5 Q406.5,391.5 406.5,394.6 V399.40000000000003 Q406.5,402.2 409.65,402.2 H412.5 M423.5,392.0 H419.5 Q417.1,392.0 417.1,394.5 Q417.1,396.90000000000003 419.5,396.90000000000003 H421.3 Q423.8,396.90000000000003 423.8,399.5 Q423.8,402.2 421.3,402.2 H417.0" fill="none" stroke="#7a7a7a" stroke-width="1.3"/></g>
<g class="wm"><path d="M172.5,504.4 h25 v6 h-17.5 v5.7 h17.5 v8.5 h-17.5 v5.5 h17.5 v6 h-25 Z" fill="none" stroke="#7c7c7c" stroke-width="1.25" stroke-linejoin="round"/><line x1="202.0" y1="504.9" x2="235.0" y2="504.9" stroke="#a0a0a0" stroke-width="0.9"/><line x1="202.0" y1="507.4" x2="235.0" y2="507.4" stroke="#a0a0a0" stroke-width="0.9"/><line x1="202.0" y1="510.0" x2="235.0" y2="510.0" stroke="#a0a0a0" stroke-width="0.9"/><line x1="202.0" y1="530.1999999999999" x2="235.0" y2="530.1999999999999" stroke="#a0a0a0" stroke-width="0.9"/><line x1="202.0" y1="532.6999999999999" x2="235.0" y2="532.6999999999999" stroke="#a0a0a0" stroke-width="0.9"/><line x1="202.0" y1="535.1999999999999" x2="235.0" y2="535.1999999999999" stroke="#a0a0a0" stroke-width="0.9"/><path d="M203.8,525.6 V514.6 M203.8,517.6 Q203.8,514.6 207.7,514.6 Q211.7,514.6 211.7,517.6 V525.6 M215.5,520.0 H221.8 V517.6999999999999 Q221.8,514.6 218.65,514.6 Q215.5,514.6 215.5,517.6999999999999 V522.5 Q215.5,525.3 218.65,525.3 H221.5 M232.5,515.1 H228.5 Q226.1,515.1 226.1,517.6 Q226.1,520.0 228.5,520.0 H230.3 Q232.8,520.0 232.8,522.6 Q232.8,525.3 230.3,525.3 H226.0" fill="none" stroke="#7a7a7a" stroke-width="1.3"/></g>
<g class="wm"><path d="M363.2,503 h25 v6 h-17.5 v5.7 h17.5 v8.5 h-17.5 v5.5 h17.5 v6 h-25 Z" fill="none" stroke="#7c7c7c" stroke-width="1.25" stroke-linejoin="round"/><line x1="392.7" y1="503.5" x2="425.7" y2="503.5" stroke="#a0a0a0" stroke-width="0.9"/><line x1="392.7" y1="506.0" x2="425.7" y2="506.0" stroke="#a0a0a0" stroke-width="0.9"/><line x1="392.7" y1="508.6" x2="425.7" y2="508.6" stroke="#a0a0a0" stroke-width="0.9"/><line x1="392.7" y1="528.8" x2="425.7" y2="528.8" stroke="#a0a0a0" stroke-width="0.9"/><line x1="392.7" y1="531.3" x2="425.7" y2="531.3" stroke="#a0a0a0" stroke-width="0.9"/><line x1="392.7" y1="533.8" x2="425.7" y2="533.8" stroke="#a0a0a0" stroke-width="0.9"/><path d="M394.5,524.2 V513.2 M394.5,516.2 Q394.5,513.2 398.4,513.2 Q402.4,513.2 402.4,516.2 V524.2 M406.2,518.6 H412.5 V516.3 Q412.5,513.2 409.34999999999997,513.2 Q406.2,513.2 406.2,516.3 V521.1 Q406.2,523.9 409.34999999999997,523.9 H412.2 M423.2,513.7 H419.2 Q416.8,513.7 416.8,516.2 Q416.8,518.6 419.2,518.6 H421.0 Q423.5,518.6 423.5,521.2 Q423.5,523.9 421.0,523.9 H416.7" fill="none" stroke="#7a7a7a" stroke-width="1.3"/></g>
<g class="wm"><path d="M557.3,364.4 h25 v6 h-17.5 v5.7 h17.5 v8.5 h-17.5 v5.5 h17.5 v6 h-25 Z" fill="none" stroke="#7c7c7c" stroke-width="1.25" stroke-linejoin="round"/><line x1="586.8" y1="364.9" x2="619.8" y2="364.9" stroke="#a0a0a0" stroke-width="0.9"/><line x1="586.8" y1="367.4" x2="619.8" y2="367.4" stroke="#a0a0a0" stroke-width="0.9"/><line x1="586.8" y1="370.0" x2="619.8" y2="370.0" stroke="#a0a0a0" stroke-width="0.9"/><line x1="586.8" y1="390.2" x2="619.8" y2="390.2" stroke="#a0a0a0" stroke-width="0.9"/><line x1="586.8" y1="392.7" x2="619.8" y2="392.7" stroke="#a0a0a0" stroke-width="0.9"/><line x1="586.8" y1="395.2" x2="619.8" y2="395.2" stroke="#a0a0a0" stroke-width="0.9"/><path d="M588.5999999999999,385.59999999999997 V374.59999999999997 M588.5999999999999,377.59999999999997 Q588.5999999999999,374.59999999999997 592.5,374.59999999999997 Q596.5,374.59999999999997 596.5,377.59999999999997 V385.59999999999997 M600.3,380.0 H606.5999999999999 V377.7 Q606.5999999999999,374.59999999999997 603.4499999999999,374.59999999999997 Q600.3,374.59999999999997 600.3,377.7 V382.5 Q600.3,385.29999999999995 603.4499999999999,385.29999999999995 H606.3 M617.3,375.09999999999997 H613.3 Q610.9,375.09999999999997 610.9,377.59999999999997 Q610.9,380.0 613.3,380.0 H615.0999999999999 Q617.5999999999999,380.0 617.5999999999999,382.59999999999997 Q617.5999999999999,385.29999999999995 615.0999999999999,385.29999999999995 H610.8" fill="none" stroke="#7a7a7a" stroke-width="1.3"/></g>
<g class="wm"><path d="M556.3,504.4 h25 v6 h-17.5 v5.7 h17.5 v8.5 h-17.5 v5.5 h17.5 v6 h-25 Z" fill="none" stroke="#7c7c7c" stroke-width="1.25" stroke-linejoin="round"/><line x1="585.8" y1="504.9" x2="618.8" y2="504.9" stroke="#a0a0a0" stroke-width="0.9"/><line x1="585.8" y1="507.4" x2="618.8" y2="507.4" stroke="#a0a0a0" stroke-width="0.9"/><line x1="585.8" y1="510.0" x2="618.8" y2="510.0" stroke="#a0a0a0" stroke-width="0.9"/><line x1="585.8" y1="530.1999999999999" x2="618.8" y2="530.1999999999999" stroke="#a0a0a0" stroke-width="0.9"/><line x1="585.8" y1="532.6999999999999" x2="618.8" y2="532.6999999999999" stroke="#a0a0a0" stroke-width="0.9"/><line x1="585.8" y1="535.1999999999999" x2="618.8" y2="535.1999999999999" stroke="#a0a0a0" stroke-width="0.9"/><path d="M587.5999999999999,525.6 V514.6 M587.5999999999999,517.6 Q587.5999999999999,514.6 591.5,514.6 Q595.5,514.6 595.5,517.6 V525.6 M599.3,520.0 H605.5999999999999 V517.6999999999999 Q605.5999999999999,514.6 602.4499999999999,514.6 Q599.3,514.6 599.3,517.6999999999999 V522.5 Q599.3,525.3 602.4499999999999,525.3 H605.3 M616.3,515.1 H612.3 Q609.9,515.1 609.9,517.6 Q609.9,520.0 612.3,520.0 H614.0999999999999 Q616.5999999999999,520.0 616.5999999999999,522.6 Q616.5999999999999,525.3 614.0999999999999,525.3 H609.8" fill="none" stroke="#7a7a7a" stroke-width="1.3"/></g>
<text class="wm" x="239.6" y="173.4" font-size="13.8" fill="#7e7e7e" textLength="82" lengthAdjust="spacingAndGlyphs">enesmagnets</text>
<text class="wm" x="450.5" y="174" font-size="13.8" fill="#7e7e7e" textLength="97.5" lengthAdjust="spacingAndGlyphs">enesmagnets.pl</text>
<text class="wm" x="237.7" y="330.2" font-size="13.8" fill="#7e7e7e" textLength="97.5" lengthAdjust="spacingAndGlyphs">enesmagnets.pl</text>
<text class="wm" x="237.7" y="456" font-size="13.8" fill="#7e7e7e" textLength="97.5" lengthAdjust="spacingAndGlyphs">enesmagnets.pl</text>
<text class="wm" x="448.8" y="330" font-size="13.8" fill="#7e7e7e" textLength="97.5" lengthAdjust="spacingAndGlyphs">enesmagnets.pl</text>
<text class="wm" x="457.7" y="456" font-size="13.8" fill="#7e7e7e" textLength="97.5" lengthAdjust="spacingAndGlyphs">enesmagnets.pl</text>
</svg></body></html>
